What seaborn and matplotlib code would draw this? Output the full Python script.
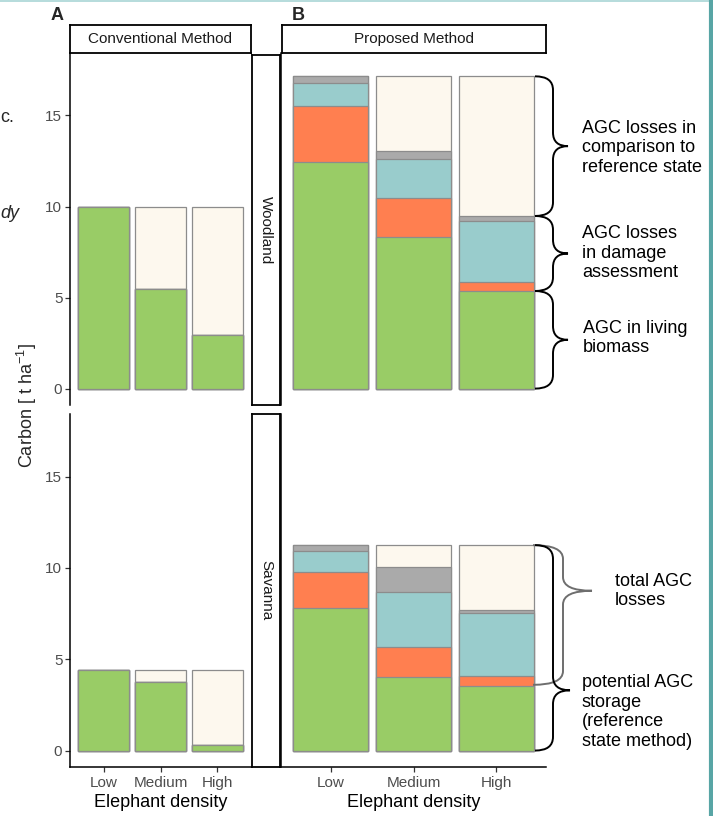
import pandas as pd
import seaborn as sns
import matplotlib.pyplot as plt
from matplotlib.path import Path
from matplotlib.patches import PathPatch
from matplotlib import transforms
from matplotlib.lines import Line2D

# data (t C / ha)
density = ["Low", "Medium", "High"]

# A - conventional method
conv_wood_living = [10.0, 5.45, 2.95]
conv_wood_loss = [0.0, 4.55, 7.05]
conv_sav_living = [4.42, 3.77, 0.32]
conv_sav_loss = [0.0, 0.65, 4.10]

# B - proposed method (living, orange, teal, grey, loss to reference state)
prop_wood_living = [12.43, 8.34, 5.36]
prop_wood_orange = [3.11, 2.11, 0.52]
prop_wood_teal = [1.25, 2.18, 3.30]
prop_wood_grey = [0.36, 0.44, 0.30]
prop_wood_ref = [0.0, 4.08, 7.67]

prop_sav_living = [7.80, 4.02, 3.54]
prop_sav_orange = [2.00, 1.67, 0.56]
prop_sav_teal = [1.13, 2.98, 3.43]
prop_sav_grey = [0.32, 1.38, 0.16]
prop_sav_ref = [0.0, 1.20, 3.56]

zeros = [0.0, 0.0, 0.0]

layer_names = ["living", "orange", "teal", "grey", "ref"]
layer_colors = ["#99CC66", "#FF7F50", "#99CCCC", "#AAAAAA", "#FDF8EE"]

sns.set_style("white")
plt.rcParams['font.family'] = ['Liberation Sans', 'DejaVu Sans']
plt.rcParams['mathtext.default'] = 'regular'

W, H = 713, 816


def px_box(x0, y0, x1, y1):
    # pixel box -> figure fraction [left, bottom, width, height]
    return [x0 / W, 1 - y1 / H, (x1 - x0) / W, (y1 - y0) / H]


def draw_stack(ax, segments, bottom_row):
    df = pd.DataFrame({n: v for n, v in zip(layer_names, segments)}, index=density)
    cum = df.cumsum(axis=1)
    # tallest first, every following layer covers the lower part
    for name, col in reversed(list(zip(layer_names, layer_colors))):
        sns.barplot(x=density, y=cum[name].values, order=density, color=col,
                    saturation=1, width=0.9, edgecolor="#8C8C8C", linewidth=0.9, ax=ax)
    ax.set_xlim(-0.6, 2.6)
    ax.set_ylim(-0.9, 18.43)
    ax.set_xlabel("")
    ax.set_ylabel("")
    for sp in ["top", "right"]:
        ax.spines[sp].set_visible(False)
    ax.spines["left"].set_color("black")
    ax.spines["left"].set_linewidth(1.1)
    if bottom_row:
        ax.spines["bottom"].set_color("black")
        ax.spines["bottom"].set_linewidth(1.1)
        ax.tick_params(axis="x", bottom=True, length=3.5, width=0.9, color="#333333",
                       labelsize=11, labelcolor="#4D4D4D", pad=3)
        ax.set_xlabel("Elephant density", fontsize=13, labelpad=3, color="black")
    else:
        ax.spines["bottom"].set_visible(False)
        ax.set_xticks([])


def strip(box, text, rotation=0):
    s = fig.add_axes(box)
    s.set_xticks([])
    s.set_yticks([])
    s.set_facecolor("white")
    for sp in s.spines.values():
        sp.set_visible(True)
        sp.set_color("black")
        sp.set_linewidth(1.3)
    s.text(0.5, 0.5, text, ha="center", va="center", rotation=rotation,
           fontsize=11, color="#1A1A1A", transform=s.transAxes)


def brace(ax, y_top, y_bot, y_tip, x0, x1, x2, color="black", r=0.75):
    # x in pixels, y in data units
    f = lambda px: (px - 281) / 265
    x0, x1, x2 = f(x0), f(x1), f(x2)
    verts = [(x0, y_top), (x1, y_top), (x1, y_top - r),
             (x1, y_tip + r),
             (x1, y_tip), (x2, y_tip),
             (x1, y_tip), (x1, y_tip - r),
             (x1, y_bot + r),
             (x1, y_bot), (x0, y_bot)]
    codes = [Path.MOVETO, Path.CURVE3, Path.CURVE3, Path.LINETO,
             Path.CURVE3, Path.CURVE3, Path.CURVE3, Path.CURVE3,
             Path.LINETO, Path.CURVE3, Path.CURVE3]
    trans = transforms.blended_transform_factory(ax.transAxes, ax.transData)
    ax.add_patch(PathPatch(Path(verts, codes), facecolor="none", edgecolor=color,
                           linewidth=1.4, transform=trans, clip_on=False))


fig = plt.figure(figsize=(W / 100, H / 100), dpi=100)

axA_w = fig.add_axes(px_box(70, 53, 251, 405))
axA_s = fig.add_axes(px_box(70, 414, 251, 767))
axB_w = fig.add_axes(px_box(281, 53, 546, 405))
axB_s = fig.add_axes(px_box(281, 414, 546, 767))

draw_stack(axA_w, [conv_wood_living, zeros, zeros, zeros, conv_wood_loss], False)
draw_stack(axA_s, [conv_sav_living, zeros, zeros, zeros, conv_sav_loss], True)
draw_stack(axB_w, [prop_wood_living, prop_wood_orange, prop_wood_teal,
                   prop_wood_grey, prop_wood_ref], False)
draw_stack(axB_s, [prop_sav_living, prop_sav_orange, prop_sav_teal,
                   prop_sav_grey, prop_sav_ref], True)

for ax in [axA_w, axA_s]:
    ax.set_yticks([0, 5, 10, 15])
    ax.tick_params(axis="y", left=True, length=3.5, width=0.9, color="#333333",
                   labelsize=11, labelcolor="#4D4D4D", pad=2)
for ax in [axB_w, axB_s]:
    ax.tick_params(axis="y", left=False, labelleft=False)

# facet strips
strip(px_box(70, 25, 251, 53), "Conventional Method")
strip(px_box(282, 25, 546, 53), "Proposed Method")
strip(px_box(252, 55, 280, 405), "Woodland", rotation=-90)
strip(px_box(252, 414, 280, 767), "Savanna", rotation=-90)

fig.text(27 / W, 1 - 406 / H, "Carbon [ t ha$^{-1}$]", rotation=90,
         fontsize=13, ha="center", va="center")
fig.text(51 / W, 1 - 16 / H, "A", fontsize=13, fontweight="bold", va="center")
fig.text(292 / W, 1 - 16 / H, "B", fontsize=13, fontweight="bold", va="center")

# braces + notes, woodland
wood_top = sum(v[2] for v in [prop_wood_living, prop_wood_orange, prop_wood_teal,
                              prop_wood_grey, prop_wood_ref])
wood_dmg = prop_wood_living[2] + prop_wood_orange[2] + prop_wood_teal[2] + prop_wood_grey[2]
wood_liv = prop_wood_living[2]
brace(axB_w, wood_top, wood_dmg, (wood_top + wood_dmg) / 2, 535, 553, 568)
brace(axB_w, wood_dmg, wood_liv, (wood_dmg + wood_liv) / 2, 535, 553, 568)
brace(axB_w, wood_liv, 0, wood_liv / 2, 535, 553, 568)

note = dict(fontsize=13, ha="left", va="center", linespacing=1.18, color="black")
fig.text(582 / W, 1 - 148 / H, "AGC losses in\ncomparison to\nreference state", **note)
fig.text(582 / W, 1 - 253 / H, "AGC losses\nin damage\nassessment", **note)
fig.text(583 / W, 1 - 338 / H, "AGC in living\nbiomass", **note)

# braces + notes, savanna
sav_top = sum(v[2] for v in [prop_sav_living, prop_sav_orange, prop_sav_teal,
                             prop_sav_grey, prop_sav_ref])
brace(axB_s, sav_top, 3.6, 8.75, 533, 563, 592, color="#6E6E6E")
brace(axB_s, sav_top, 0, 3.3, 535, 553, 570)
fig.text(615 / W, 1 - 591 / H, "total AGC\nlosses", **note)
fig.text(582 / W, 1 - 712 / H, "potential AGC\nstorage\n(reference\nstate method)", **note)

# bits of the surrounding page
fig.text(0.5 / W, 1 - 118 / H, "c.", fontsize=13, ha="left", va="center")
fig.text(0.5 / W, 1 - 213 / H, "dy", fontsize=13, style="italic", ha="left", va="center")
fig.add_artist(Line2D([0, 710 / W], [1 - 0.8 / H] * 2, color="#A9D6D6", lw=1.2,
                      transform=fig.transFigure))
fig.add_artist(Line2D([710.5 / W] * 2, [0, 1], color="#58A5A5", lw=3,
                      transform=fig.transFigure))

fig.savefig("out.png", dpi=100)
